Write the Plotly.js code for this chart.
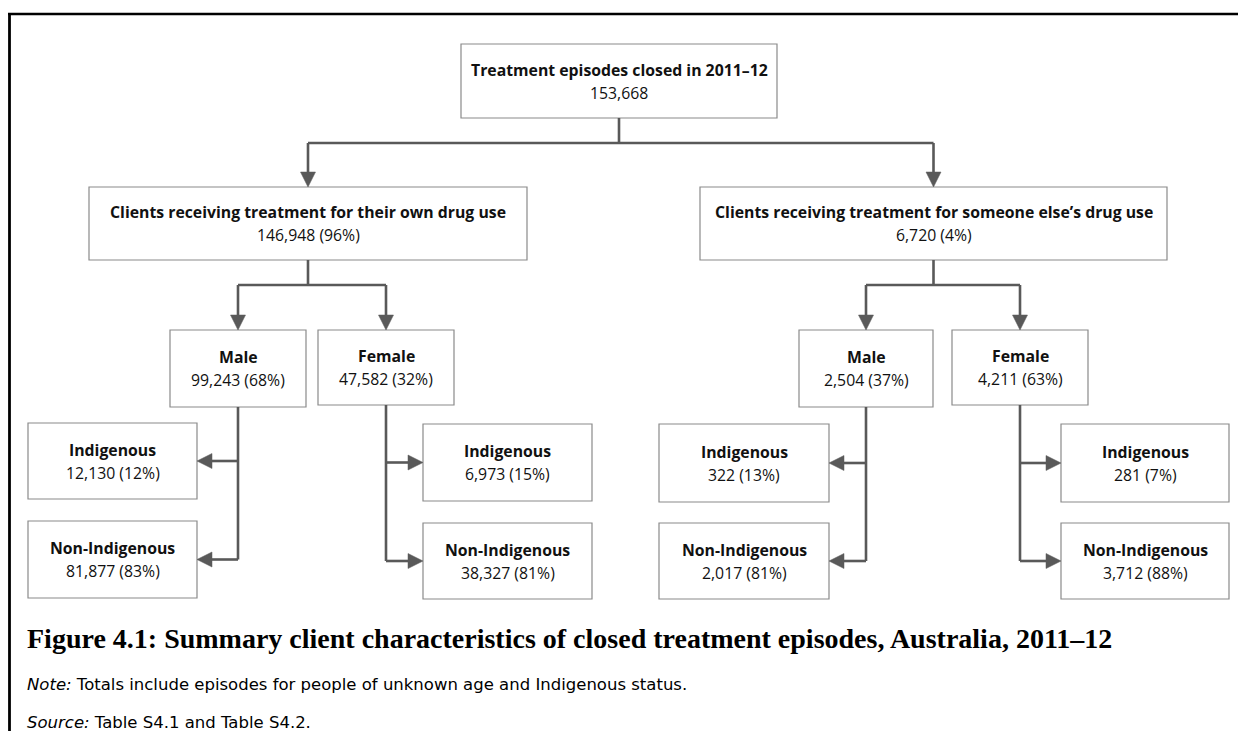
<!DOCTYPE html>
<html><head><meta charset="utf-8">
<script src="https://cdn.plot.ly/plotly-3.0.1.min.js"></script>
<style>html,body{margin:0;padding:0;background:#fff}#chart{width:1238px;height:731px}</style>
</head><body><div id="chart"></div>
<script>
// ---- data ----
const nodeLabels = ["Treatment episodes closed in 2011–12",
  "Clients receiving treatment for their own drug use",
  "Clients receiving treatment for someone else’s drug use",
  "Male", "Female", "Male", "Female",
  "Indigenous", "Non-Indigenous", "Indigenous", "Non-Indigenous",
  "Indigenous", "Non-Indigenous", "Indigenous", "Non-Indigenous"];
const nodeValues = [153668, 146948, 6720, 99243, 47582, 2504, 4211, 12130, 81877, 6973, 38327, 322, 2017, 281, 3712];
const nodeShares = [null, 96, 4, 68, 32, 37, 63, 12, 83, 15, 81, 13, 81, 7, 88];
const nodeParents = [null, 0, 0, 1, 1, 2, 2, 3, 3, 4, 4, 5, 5, 6, 6];
const figureTitle = "Figure 4.1: Summary client characteristics of closed treatment episodes, Australia, 2011–12";
const noteLabel = "Note:";
const noteText = " Totals include episodes for people of unknown age and Indigenous status.";
const sourceLabel = "Source:";
const sourceText = " Table S4.1 and Table S4.2.";

// ---- diagram geometry (pixels) ----
const boxLeft   = [461, 89, 700, 170, 318, 799, 952, 28, 28, 423, 423, 659, 659, 1061, 1061];
const boxRight  = [777, 527, 1167, 306, 454, 933, 1088, 197, 197, 592, 592, 829, 829, 1229, 1229];
const boxTop    = [44, 187, 187, 330, 330, 330, 330, 423, 521, 424, 523, 424, 523, 424, 523];
const boxBottom = [118, 260, 260, 407, 405, 407, 405, 499, 598, 501, 599, 502, 599, 502, 599];
const connectorKind = ["bus", "bus", "bus", "side", "side", "side", "side"];
const busLevel = [143, 285, 285];

const W = 1238, H = 731;
const lineColor = "#595959", boxColor = "#8a8a8a";
const boxFont = "'Open Sans', sans-serif";
const shapes = [], annotations = [];

function fmt(v) { return v.toLocaleString("en-US"); }
function cx(i) { return (boxLeft[i] + boxRight[i]) / 2; }
function cy(i) { return (boxTop[i] + boxBottom[i]) / 2; }
function seg(x0, y0, x1, y1) {
  shapes.push({type: "line", xref: "x", yref: "y", x0, y0, x1, y1,
    line: {color: lineColor, width: 2.6}});
}
function head(x, y, dir) {
  const L = 15, hw = 7.5; let p;
  if (dir === "down") p = `M${x - hw},${y - L} L${x + hw},${y - L} L${x},${y} Z`;
  else if (dir === "left") p = `M${x + L},${y - hw} L${x + L},${y + hw} L${x},${y} Z`;
  else p = `M${x - L},${y - hw} L${x - L},${y + hw} L${x},${y} Z`;
  shapes.push({type: "path", xref: "x", yref: "y", path: p, fillcolor: lineColor,
    line: {color: lineColor, width: 0.5}});
}

// frame
shapes.push({type: "line", xref: "x", yref: "y", x0: 8, y0: 14, x1: W, y1: 14, line: {color: "#000", width: 2.5}});
shapes.push({type: "line", xref: "x", yref: "y", x0: 9.5, y0: 14, x1: 9.5, y1: H, line: {color: "#000", width: 2.8}});

// boxes + labels
for (let i = 0; i < nodeLabels.length; i++) {
  shapes.push({type: "rect", xref: "x", yref: "y", x0: boxLeft[i], x1: boxRight[i], y0: boxTop[i], y1: boxBottom[i],
    line: {color: boxColor, width: 1.2}, fillcolor: "#fff"});
  const valueText = nodeShares[i] === null ? fmt(nodeValues[i]) : fmt(nodeValues[i]) + " (" + nodeShares[i] + "%)";
  annotations.push({xref: "x", yref: "y", x: cx(i), y: cy(i) - 11.5, text: "<b>" + nodeLabels[i] + "</b>",
    showarrow: false, xanchor: "center", yanchor: "middle", font: {family: boxFont, size: 15.8, color: "#111"}});
  annotations.push({xref: "x", yref: "y", x: cx(i), y: cy(i) + 11.5, text: valueText,
    showarrow: false, xanchor: "center", yanchor: "middle", font: {family: boxFont, size: 15.8, color: "#111"}});
}

// connectors
for (let p = 0; p < connectorKind.length; p++) {
  const kids = [];
  nodeParents.forEach((par, k) => { if (par === p) kids.push(k); });
  if (!kids.length) continue;
  if (connectorKind[p] === "bus") {
    const yb = busLevel[p];
    seg(cx(p), boxBottom[p], cx(p), yb);
    const xs = kids.map(cx);
    seg(Math.min(...xs), yb, Math.max(...xs), yb);
    kids.forEach(k => { seg(cx(k), yb, cx(k), boxTop[k] - 10); head(cx(k), boxTop[k], "down"); });
  } else {
    const x = cx(p);
    const lastY = Math.max(...kids.map(cy));
    seg(x, boxBottom[p], x, lastY);
    kids.forEach(k => {
      const y = cy(k);
      if (cx(k) < x) { seg(x, y, boxRight[k] + 10, y); head(boxRight[k], y, "left"); }
      else { seg(x, y, boxLeft[k] - 10, y); head(boxLeft[k], y, "right"); }
    });
  }
}

// caption
annotations.push({xref: "x", yref: "y", x: 25, y: 638, text: "<b>" + figureTitle + "</b>", showarrow: false,
  xanchor: "left", yanchor: "middle", font: {family: "'Liberation Serif', serif", size: 28, color: "#000"}});
annotations.push({xref: "x", yref: "y", x: 25, y: 684, text: "<i>" + noteLabel + "</i>" + noteText, showarrow: false,
  xanchor: "left", yanchor: "middle", font: {family: "'DejaVu Sans', sans-serif", size: 16.5, color: "#000"}});
annotations.push({xref: "x", yref: "y", x: 25, y: 722, text: "<i>" + sourceLabel + "</i>" + sourceText, showarrow: false,
  xanchor: "left", yanchor: "middle", font: {family: "'DejaVu Sans', sans-serif", size: 16.5, color: "#000"}});

Plotly.newPlot("chart", [], {
  width: W, height: H, margin: {l: 0, r: 0, t: 0, b: 0},
  paper_bgcolor: "#fff", plot_bgcolor: "#fff", showlegend: false,
  xaxis: {range: [0, W], visible: false, fixedrange: true},
  yaxis: {range: [H, 0], visible: false, fixedrange: true},
  shapes, annotations
}, {displayModeBar: false, staticPlot: true});
</script></body></html>
